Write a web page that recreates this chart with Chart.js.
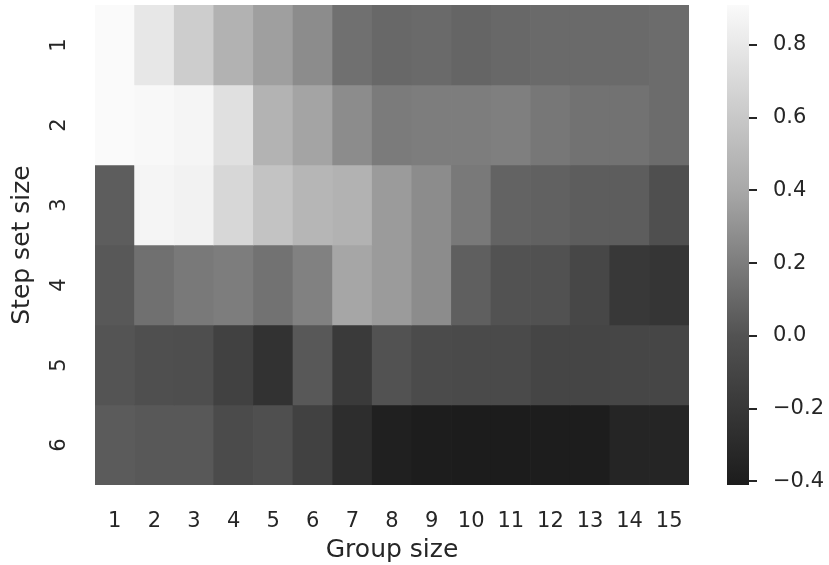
<!DOCTYPE html>
<html>
<head>
<meta charset="utf-8">
<script src="https://cdn.jsdelivr.net/npm/chart.js@4.4.1/dist/chart.umd.min.js"></script>
<style>
  html, body { margin: 0; padding: 0; background: #fff; }
</style>
</head>
<body>
<canvas id="heatmap" width="829" height="565"></canvas>
<script>
// categories
const groupSizes = ['1', '2', '3', '4', '5', '6', '7', '8', '9', '10', '11', '12', '13', '14', '15'];
const stepSetSizes = ['1', '2', '3', '4', '5', '6'];

// values per step set size (rows), one entry per group size
const step1 = [0.91, 0.79, 0.63, 0.46, 0.36, 0.27, 0.14, 0.10, 0.11, 0.09, 0.10, 0.11, 0.11, 0.11, 0.12];
const step2 = [0.91, 0.90, 0.88, 0.75, 0.47, 0.38, 0.27, 0.19, 0.20, 0.20, 0.21, 0.17, 0.15, 0.15, 0.12];
const step3 = [0.05, 0.88, 0.86, 0.69, 0.57, 0.49, 0.46, 0.34, 0.27, 0.18, 0.08, 0.07, 0.05, 0.05, -0.02];
const step4 = [0.03, 0.14, 0.18, 0.20, 0.15, 0.22, 0.39, 0.34, 0.27, 0.06, 0.00, -0.01, -0.08, -0.20, -0.22];
const step5 = [0.01, -0.02, -0.03, -0.13, -0.24, 0.03, -0.18, 0.00, -0.05, -0.06, -0.06, -0.10, -0.10, -0.09, -0.09];
const step6 = [0.04, 0.03, 0.03, -0.05, -0.02, -0.13, -0.28, -0.38, -0.40, -0.41, -0.41, -0.40, -0.40, -0.34, -0.34];
const rows = [step1, step2, step3, step4, step5, step6];

// colorbar
const colorbarTicks = [-0.4, -0.2, 0.0, 0.2, 0.4, 0.6, 0.8];
const valueMin = -0.41;
const valueMax = 0.91;

// grey colormap anchors [value, grey level]
const cmap = [[-0.41, 28], [0.0, 82], [0.4, 168], [0.91, 250]];

function greyFor(v) {
    let g = cmap[cmap.length - 1][1];
    if (v <= cmap[0][0]) g = cmap[0][1];
    for (let i = 0; i < cmap.length - 1; i++) {
        const [v0, g0] = cmap[i];
        const [v1, g1] = cmap[i + 1];
        if (v >= v0 && v <= v1) {
            g = g0 + (v - v0) / (v1 - v0) * (g1 - g0);
            break;
        }
    }
    g = Math.round(g);
    return `rgb(${g},${g},${g})`;
}

const textColor = '#262626';
const fontFamily = '"DejaVu Sans", sans-serif';

const datasets = rows.map((vals, r) => ({
    label: stepSetSizes[r],
    data: vals.map((v, i) => ({ x: groupSizes[i], y: [r, r + 1], v: v })),
    backgroundColor: ctx => greyFor(ctx.raw.v),
    borderWidth: 0,
    barPercentage: 1,
    categoryPercentage: 1,
    grouped: false
}));

// draws the colorbar gradient and rotated row labels
const extrasPlugin = {
    id: 'extras',
    afterDraw(chart) {
        const ctx = chart.ctx;
        const cb = chart.scales.cb;
        const y = chart.scales.y;
        const barLeft = cb.left + 38;
        const barWidth = 22;

        const grad = ctx.createLinearGradient(0, cb.getPixelForValue(valueMin), 0, cb.getPixelForValue(valueMax));
        cmap.forEach(([v]) => {
            grad.addColorStop((v - valueMin) / (valueMax - valueMin), greyFor(v));
        });
        ctx.save();
        ctx.fillStyle = grad;
        ctx.fillRect(barLeft, cb.top, barWidth, cb.bottom - cb.top);

        // colorbar tick marks
        ctx.strokeStyle = textColor;
        ctx.lineWidth = 2;
        colorbarTicks.forEach(v => {
            const py = Math.round(cb.getPixelForValue(v));
            ctx.beginPath();
            ctx.moveTo(barLeft + barWidth, py);
            ctx.lineTo(barLeft + barWidth + 8, py);
            ctx.stroke();
        });

        // row labels, rotated like seaborn
        ctx.fillStyle = textColor;
        ctx.font = `21px ${fontFamily}`;
        ctx.textAlign = 'center';
        ctx.textBaseline = 'middle';
        stepSetSizes.forEach((lab, r) => {
            ctx.save();
            ctx.translate(60, y.getPixelForValue(r + 0.5));
            ctx.rotate(-Math.PI / 2);
            ctx.fillText(lab, 0, 0);
            ctx.restore();
        });
        ctx.restore();
    }
};

new Chart(document.getElementById('heatmap').getContext('2d'), {
    type: 'bar',
    data: { labels: groupSizes, datasets: datasets },
    options: {
        responsive: false,
        animation: false,
        layout: { padding: { top: 5, left: 0, right: 0, bottom: 0 } },
        plugins: {
            legend: { display: false },
            tooltip: { enabled: false }
        },
        scales: {
            x: {
                type: 'category',
                grid: { display: false, drawTicks: false },
                border: { display: false },
                ticks: {
                    color: textColor,
                    font: { family: fontFamily, size: 21 },
                    padding: 24,
                    maxRotation: 0
                },
                title: {
                    display: true,
                    text: 'Group size',
                    color: textColor,
                    font: { family: fontFamily, size: 25 },
                    padding: { top: 0, bottom: 0 }
                },
                afterFit: s => { s.height = 80; s.paddingLeft = 0; s.paddingRight = 0; }
            },
            y: {
                type: 'linear',
                min: 0,
                max: 6,
                reverse: true,
                grid: { display: false, drawTicks: false },
                border: { display: false },
                ticks: { display: false },
                title: {
                    display: true,
                    text: 'Step set size',
                    color: textColor,
                    font: { family: fontFamily, size: 25 },
                    padding: { top: 7, bottom: 0 }
                },
                afterFit: s => { s.width = 95; s.paddingTop = 0; s.paddingBottom = 0; }
            },
            cb: {
                type: 'linear',
                position: 'right',
                min: valueMin,
                max: valueMax,
                grid: { display: false, drawTicks: false },
                border: { display: false },
                ticks: {
                    color: textColor,
                    font: { family: fontFamily, size: 21 },
                    padding: 84,
                    callback: v => (v < 0 ? '\u2212' : '') + Math.abs(v).toFixed(1)
                },
                afterBuildTicks: s => { s.ticks = colorbarTicks.map(v => ({ value: v })); },
                afterFit: s => { s.width = 140; s.paddingTop = 0; s.paddingBottom = 0; }
            }
        }
    },
    plugins: [extrasPlugin]
});
</script>
</body>
</html>
